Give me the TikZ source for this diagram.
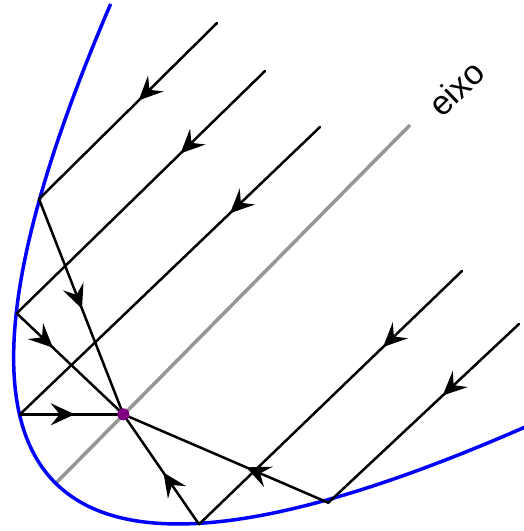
\documentclass[tikz,border=0pt]{standalone}
\usepackage{fontspec}
\setmainfont{Liberation Sans}
\usetikzlibrary{arrows.meta, decorations.markings}
\definecolor{cinza}{RGB}{150,150,150}
\definecolor{foco}{RGB}{128,0,128}

\begin{document}
\begin{tikzpicture}[x=1pt, y=-1pt,
    raio/.style={line width=2.5pt, line cap=round},
    seta/.style={postaction={decorate, decoration={markings,
        mark=at position #1 with {\arrow{Stealth[length=24pt, width=22pt, inset=9pt]}}}}}]
    \useasboundingbox (0,0) rectangle (524,531);

    % vertice, foco e pontos de reflexao
    \coordinate (V) at (55.7,483.3);
    \coordinate (Q) at (410,125);
    \coordinate (F) at (123.3,414.3);
    \coordinate (A) at (39,199);
    \coordinate (B) at (16.7,313.3);
    \coordinate (C) at (20,414.3);
    \coordinate (D) at (199,524.3);
    \coordinate (E) at (328.3,502.7);
    \coordinate (s1) at (217,23);
    \coordinate (s2) at (265,71);
    \coordinate (s3) at (320,127);
    \coordinate (s4) at (462,271);
    \coordinate (s5) at (519,324);

    \draw[cinza, line width=3.5pt] (V) -- (Q);
    \node[rotate=44, font=\fontsize{34}{34}\selectfont] (rotulo) at (456,88) {eixo};

    \draw[blue, line width=3.5pt, shift={(V)}]
        plot[domain=-2.98:2.98, samples=120, smooth]
        ({0.703*42.74*\x*\x + 71.1*\x}, {-0.711*42.74*\x*\x + 70.3*\x});

    \draw[raio, seta=0.44] (s1) -- (A);
    \draw[raio, seta=0.34] (s2) -- (B);
    \draw[raio, seta=0.30] (s3) -- (C);
    \draw[raio, seta=0.30] (s4) -- (D);
    \draw[raio, seta=0.40] (s5) -- (E);

    \draw[raio, seta=0.51] (A) -- (F);
    \draw[raio, seta=0.34] (B) -- (F);
    \draw[raio, seta=0.53] (C) -- (F);
    \draw[raio, seta=0.47] (D) -- (F);
    \draw[raio, seta=0.40] (E) -- (F);

    \fill[foco] (F) circle (6pt);
\end{tikzpicture}
\end{document}
